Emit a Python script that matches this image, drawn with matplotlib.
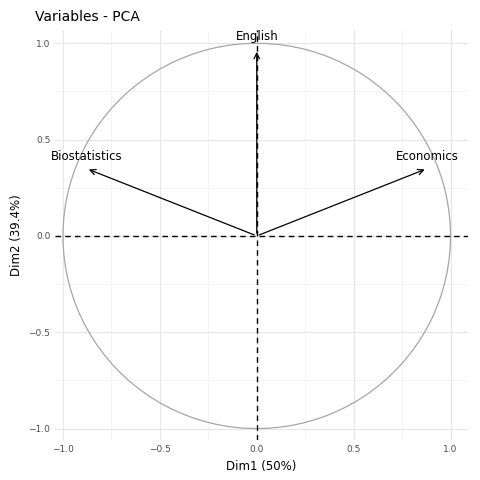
import numpy as np
import matplotlib.pyplot as plt

variables = ["Biostatistics", "Economics", "English"]
dim1 = [-0.88, 0.88, 0.0]
dim2 = [0.35, 0.35, 0.97]

fig = plt.figure(figsize=(4.8, 4.8), dpi=100)
ax = fig.add_axes([0.115, 0.083, 0.86, 0.855])

# circle of correlations
t = np.linspace(0, 2 * np.pi, 100)
ax.plot(np.cos(t), np.sin(t), color="#a6a6a6", lw=0.9)

ax.axhline(0, color="black", ls=(0, (4, 3)), lw=1)
ax.axvline(0, color="black", ls=(0, (4, 3)), lw=1)

for name, x, y in zip(variables, dim1, dim2):
    ax.annotate("", xy=(x, y), xytext=(0, 0),
                arrowprops=dict(arrowstyle="->", color="black", lw=0.9))
    ax.text(x, y + 0.03, name, ha="center", va="bottom", fontsize=8.5)

ax.set_xlim(-1.04, 1.09)
ax.set_ylim(-1.06, 1.07)
ax.set_xticks([-1.0, -0.5, 0.0, 0.5, 1.0])
ax.set_yticks([-1.0, -0.5, 0.0, 0.5, 1.0])
ax.set_xticks(np.arange(-0.75, 1.0, 0.5), minor=True)
ax.set_yticks(np.arange(-0.75, 1.0, 0.5), minor=True)
ax.tick_params(which="both", length=0, labelsize=6.5, colors="#4d4d4d")
ax.grid(True, which="major", color="#e5e5e5", lw=0.8)
ax.grid(True, which="minor", color="#f0f0f0", lw=0.5)
ax.set_axisbelow(True)
for s in ax.spines.values():
    s.set_visible(False)

ax.set_xlabel("Dim1 (50%)", fontsize=8.5)
ax.set_ylabel("Dim2 (39.4%)", fontsize=8.5)
ax.set_title("Variables - PCA", loc="left", fontsize=10, x=-0.05)

fig.savefig("out.png")
